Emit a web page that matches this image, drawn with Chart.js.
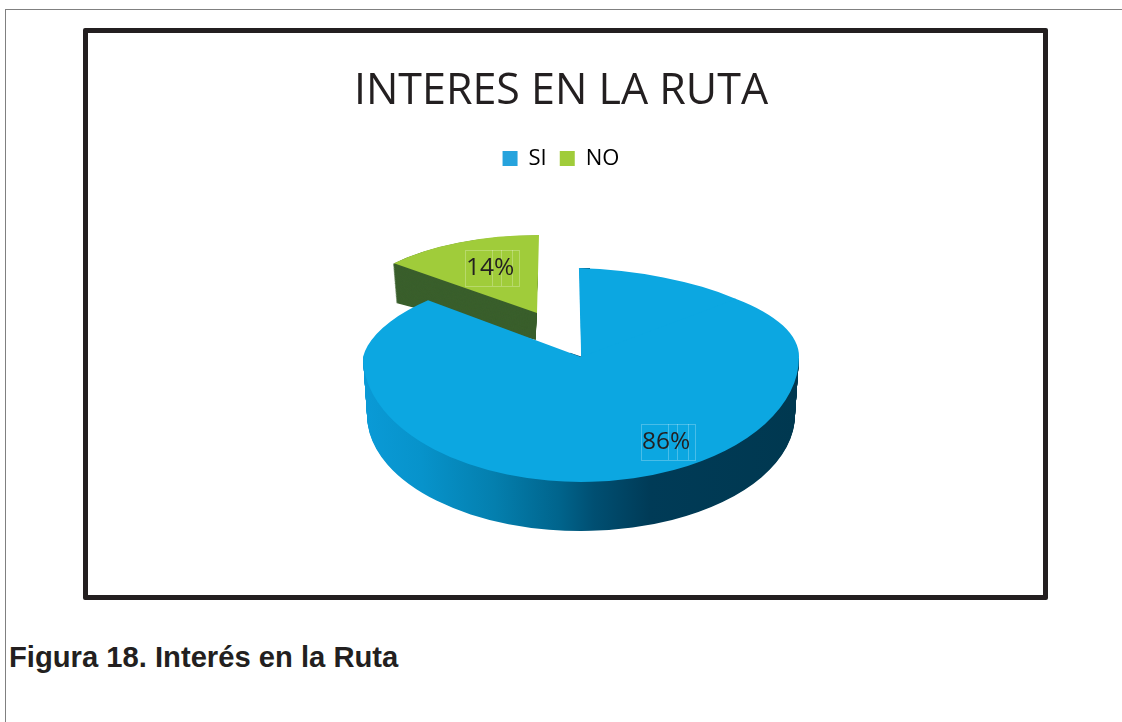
<!DOCTYPE html>
<html>
<head>
<meta charset="utf-8">
<title>Interés en la Ruta</title>
<script src="https://cdn.jsdelivr.net/npm/chart.js@4/dist/chart.umd.min.js"></script>
<style>
    body { margin: 0; background: #fff; width: 1122px; height: 722px; overflow: hidden; position: relative; }
    #lineaTop { position: absolute; left: 5px; top: 9px; width: 1117px; height: 1px; background: #808080; }
    #lineaIzq { position: absolute; left: 5px; top: 9px; width: 1px; height: 713px; background: #808080; }
    #marco { position: absolute; left: 83px; top: 28px; width: 955px; height: 562px; border: 5px solid #231f20; border-radius: 2px; }
    #pie { position: absolute; left: 9px; top: 641px; font: bold 29.2px "Liberation Sans", Arial, sans-serif; color: #231f20; }
    canvas { position: absolute; left: 0; top: 0; }
</style>
</head>
<body>
<div id="lineaTop"></div>
<div id="lineaIzq"></div>
<div id="marco"></div>
<div id="pie">Figura 18. Interés en la Ruta</div>
<canvas id="rutaChart" width="1122" height="722"></canvas>
<script>
const categorias = ['SI', 'NO'];
const valores = [86, 14];
const coloresCara = ['#0ca7e1', '#a0cc3a'];
const coloresLeyenda = ['#26a3dd', '#a0cc3a'];

const RADIO = 218;
const verdeLado = '#3a5f2c';
const azulCorte = '#0a3d58';

// matriz [a, b, c, d, x, y] relativa al centro del arco
function dibujarArco(ctx, arco, m, color) {
    const original = arco.options;
    arco.options = Object.assign({}, original, { backgroundColor: color });
    ctx.save();
    ctx.transform(m[0], m[1], m[2], m[3], m[4], m[5]);
    ctx.translate(-arco.x, -arco.y);
    arco.draw(ctx);
    ctx.restore();
    arco.options = original;
}

function recorte(ctx, puntos) {
    ctx.beginPath();
    puntos.forEach(function(p, i) {
        if (i === 0) ctx.moveTo(p[0], p[1]);
        else ctx.lineTo(p[0], p[1]);
    });
    ctx.closePath();
    ctx.clip();
}

function recorteRect(ctx, x, y, w, h) {
    recorte(ctx, [[x, y], [x + w, y], [x + w, y + h], [x, y + h]]);
}

// la tarta 3D: Chart.js calcula los arcos, aqui solo se aplastan y se apilan
const tarta3D = {
    id: 'tarta3D',
    beforeDatasetDraw(chart) {
        const ctx = chart.ctx;
        const arcos = chart.getDatasetMeta(0).data;
        const si = arcos[0];
        const no = arcos[1];

        // porcion NO, separada hacia atras
        for (let i = 56; i > 0; i--) {
            const t = i / 56;
            dibujarArco(ctx, no, [0.859 - 0.02 * t, -0.076 * t, -0.0092, 0.358, 535.8, 313 + 27 * t], verdeLado);
        }
        dibujarArco(ctx, no, [0.859, 0, -0.0092, 0.358, 537, 313], coloresCara[1]);

        // lado de la porcion SI con degradado
        const grad = ctx.createLinearGradient(si.x - RADIO, 0, si.x + RADIO, 0);
        grad.addColorStop(0, '#0a9ad6');
        grad.addColorStop(0.13, '#0793cb');
        grad.addColorStop(0.3, '#047fae');
        grad.addColorStop(0.45, '#00648c');
        grad.addColorStop(0.53, '#004f72');
        grad.addColorStop(0.66, '#003b57');
        grad.addColorStop(1, '#003850');
        for (let i = 58; i > 0; i--) {
            const t = i / 58;
            ctx.save();
            recorteRect(ctx, 0, 357 + i, 1122, 365);
            const esc = 1 - (4 * t) / RADIO;
            dibujarArco(ctx, si, [esc, 0, 0, (125 - 9 * t) / RADIO, 581, 357 + i], grad);
            ctx.restore();
        }

        // borde oscuro del corte
        ctx.save();
        recorteRect(ctx, 570, 250, 20, 107);
        dibujarArco(ctx, si, [1, 0, 0.0138, 89 / RADIO, 582.5, 357], azulCorte);
        ctx.restore();

        // cara superior por tramos, la parte de atras mas corta por la perspectiva
        const azul = coloresCara[0];
        ctx.save();
        recorte(ctx, [[581, 356], [1046, 182], [1046, 357], [581, 357]]);
        dibujarArco(ctx, si, [1, 0, -0.0065, 0.3766, 581, 357], azul);
        ctx.restore();
        ctx.save();
        recorte(ctx, [[581, 357], [575, 100], [1046, 183]]);
        dibujarArco(ctx, si, [1.0203, 0.0314, 0.0138, 0.408, 581, 357], azul);
        ctx.restore();
        ctx.save();
        recorteRect(ctx, 0, 0, 581, 357);
        dibujarArco(ctx, si, [1, 0, -0.108, 0.408, 581, 357], azul);
        ctx.restore();
        ctx.save();
        recorteRect(ctx, 0, 357, 1122, 365);
        dibujarArco(ctx, si, [1, 0, 0, 125 / RADIO, 581, 357], azul);
        ctx.restore();
        return false;
    },
    afterDraw(chart) {
        const ctx = chart.ctx;
        const posiciones = [[641, 424], [465, 250]];
        ctx.save();
        valores.forEach(function(v, i) {
            const x = posiciones[i][0];
            const y = posiciones[i][1];
            ctx.strokeStyle = 'rgba(255,255,255,0.25)';
            ctx.lineWidth = 1;
            ctx.strokeRect(x + 0.5, y + 0.5, 54, 36);
            [27, 36, 47].forEach(function(dx) {
                ctx.beginPath();
                ctx.moveTo(x + dx + 0.5, y);
                ctx.lineTo(x + dx + 0.5, y + 36);
                ctx.stroke();
            });
            ctx.fillStyle = '#231f20';
            ctx.font = '24.5px "Open Sans"';
            ctx.textAlign = 'left';
            ctx.textBaseline = 'middle';
            ctx.fillText(v + '%', x + 1, y + 18);
        });
        ctx.restore();
    }
};

new Chart(document.getElementById('rutaChart'), {
    type: 'pie',
    data: {
        labels: categorias,
        datasets: [{
            data: valores,
            backgroundColor: coloresCara,
            borderWidth: 0,
            radius: RADIO,
            clip: false
        }]
    },
    options: {
        responsive: false,
        animation: false,
        events: [],
        layout: { padding: { top: 66 } },
        plugins: {
            title: {
                display: true,
                text: 'INTERES EN LA RUTA',
                color: '#231f20',
                font: { family: '"Open Sans"', size: 43, weight: 'normal' },
                padding: { top: 0, bottom: 17 }
            },
            legend: {
                position: 'top',
                labels: {
                    color: '#231f20',
                    font: { family: '"Open Sans"', size: 22 },
                    boxWidth: 15,
                    boxHeight: 15,
                    padding: 13,
                    generateLabels(chart) {
                        return categorias.map(function(c, i) {
                            return { text: c, fillStyle: coloresLeyenda[i], lineWidth: 0, index: i };
                        });
                    }
                }
            },
            tooltip: { enabled: false }
        }
    },
    plugins: [tarta3D]
});
</script>
</body>
</html>
